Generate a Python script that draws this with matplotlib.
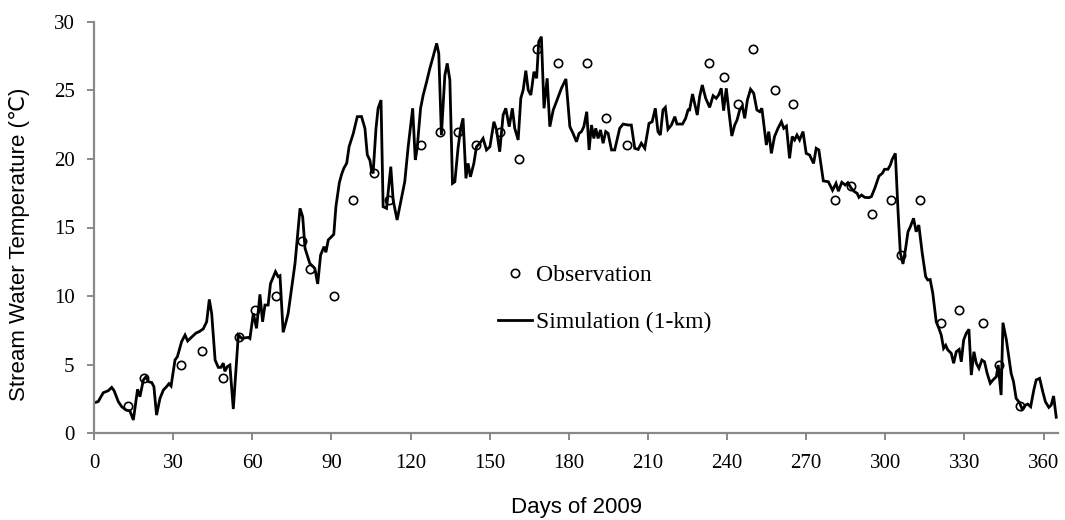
import matplotlib
matplotlib.use("Agg")
import matplotlib.pyplot as plt
from matplotlib.lines import Line2D

# simulated stream temperature (1-km), vertices
sim_day = [0.0, 1.6, 3.5, 5.4, 6.7, 7.6, 9.2, 10.5, 12.1, 13.6, 14.9, 16.5, 17.4, 18.7, 19.7, 20.6,
           21.9, 22.7, 23.7, 25.0, 26.3, 27.5, 28.4, 29.2, 30.7, 31.6, 33.2, 34.5, 35.5, 37.0, 38.7,
           39.9, 41.4, 42.7, 43.7, 44.6, 45.9, 47.1, 48.1, 49.0, 49.6, 50.5, 51.5, 52.8, 54.7, 56.0,
           58.5, 59.1, 60.4, 61.6, 62.9, 63.9, 64.8, 66.0, 66.9, 68.8, 69.8, 70.5, 71.7, 72.8, 73.6,
           76.2, 78.1, 79.1, 80.0, 81.8, 83.1, 83.7, 84.8, 85.9, 87.2, 87.9, 88.8, 90.9, 91.7, 93.0,
           93.9, 94.7, 95.8, 96.7, 98.3, 99.8, 101.4, 102.7, 103.6, 104.6, 105.2, 105.8, 106.9, 107.7,
           108.8, 109.6, 110.9, 112.5, 113.4, 114.9, 117.8, 119.1, 120.8, 121.8, 122.5, 123.8, 124.8,
           126.1, 127.3, 128.6, 129.9, 130.7, 131.7, 133.0, 133.9, 134.9, 135.9, 136.8, 138.0, 139.0,
           139.9, 141.0, 141.8, 142.7, 144.0, 145.0, 146.3, 147.5, 148.8, 150.1, 151.6, 152.6, 153.8,
           155.1, 156.1, 157.4, 158.6, 159.5, 160.8, 161.8, 162.7, 163.7, 164.6, 165.6, 166.8, 167.8,
           168.6, 169.6, 170.6, 171.8, 172.8, 174.1, 175.3, 177.2, 178.9, 180.4, 181.6, 182.9, 183.9,
           184.8, 185.7, 186.8, 187.7, 188.6, 189.5, 190.2, 191.1, 192.0, 193.0, 194.0, 194.9, 196.2,
           197.4, 199.3, 200.6, 202.5, 203.7, 205.0, 206.3, 207.5, 208.8, 210.4, 211.6, 212.8, 213.8,
           214.7, 215.7, 216.6, 217.6, 218.9, 220.2, 221.0, 223.1, 224.3, 225.2, 225.8, 226.9, 227.7,
           228.7, 229.6, 230.6, 231.9, 233.4, 234.7, 235.9, 236.8, 237.8, 238.7, 239.7, 240.7, 241.8,
           242.9, 243.8, 244.8, 245.8, 246.7, 247.7, 248.9, 250.1, 251.3, 252.4, 253.2, 254.9, 255.8,
           256.8, 258.0, 259.3, 260.6, 261.5, 262.5, 263.7, 264.7, 265.6, 266.5, 267.5, 268.8, 270.0,
           271.3, 272.8, 273.8, 274.8, 276.5, 278.4, 280.0, 281.3, 282.2, 283.5, 284.8, 285.8, 287.1,
           288.4, 289.3, 290.0, 291.0, 292.2, 293.8, 294.7, 296.0, 297.6, 298.9, 299.7, 301.0, 301.9,
           302.6, 303.8, 304.8, 305.7, 306.7, 307.7, 308.6, 309.5, 310.7, 311.7, 312.7, 314.0, 315.3,
           316.1, 317.0, 318.0, 319.3, 320.3, 321.2, 322.1, 322.9, 323.7, 325.0, 325.9, 326.9, 328.0,
           328.8, 329.7, 330.7, 331.7, 332.6, 333.6, 334.5, 335.5, 336.6, 337.6, 338.6, 339.8, 340.8,
           342.1, 342.8, 343.9, 344.6, 345.9, 346.8, 347.7, 348.6, 349.6, 350.9, 351.9, 353.2, 354.0,
           355.1, 356.3, 357.2, 358.5, 359.7, 360.7, 362.0, 362.9, 363.8, 364.8]
sim_temp = [2.2, 2.3, 2.94, 3.09, 3.33, 3.09, 2.29, 1.92, 1.68, 1.61, 0.95, 3.19, 2.65, 3.87, 4.11, 3.75,
            3.68, 3.38, 1.31, 2.53, 3.14, 3.38, 3.6, 3.43, 5.33, 5.57, 6.67, 7.15, 6.72, 7.0, 7.3,
            7.4, 7.6, 8.12, 9.75, 8.73, 5.33, 4.79, 4.79, 5.1, 4.5, 4.84, 4.96, 1.75, 7.15, 6.91,
            6.98, 6.9, 8.74, 7.64, 10.12, 8.12, 9.34, 9.34, 10.9, 11.78, 11.41, 11.48, 7.35, 8.12, 8.74,
            12.38, 16.4, 15.79, 13.48, 12.38, 12.14, 12.02, 10.88, 12.99, 13.6, 13.19, 14.09, 14.5, 16.52, 18.27,
            18.9, 19.32, 19.7, 20.9, 21.87, 23.09, 23.1, 22.24, 20.3, 19.9, 19.2, 18.95, 22.24, 23.7,
            24.3, 16.52, 16.4, 19.44, 17.0, 15.55, 18.34, 20.9, 23.7, 19.93, 20.78, 23.7, 24.67,
            25.64, 26.6, 27.5, 28.44, 27.7, 21.75, 26.1, 26.98, 25.77, 18.22, 18.34, 20.78, 22.24,
            22.97, 18.59, 19.68, 18.7, 19.68, 20.9, 21.15, 21.5, 20.66, 20.9, 22.72, 22.12, 20.53,
            23.21, 23.7, 22.36, 23.7, 22.24, 21.39, 24.43, 25.04, 26.45, 25.04, 24.67, 26.37, 25.89,
            28.56, 28.93, 23.7, 25.89, 22.36, 23.58, 24.18, 25.16, 25.84, 22.36, 21.87, 21.26, 21.87,
            22.0, 22.36, 23.45, 20.66, 22.48, 21.5, 22.24, 21.5, 22.12, 21.15, 22.0, 21.87, 20.66,
            20.66, 22.24, 22.55, 22.48, 22.48, 20.78, 20.7, 21.15, 20.78, 22.6, 22.72, 23.7, 22.0,
            21.75, 23.58, 23.77, 22.17, 22.48, 23.09, 22.55, 22.55, 22.97, 23.58, 23.58, 24.74, 24.06,
            23.21, 24.55, 25.4, 24.43, 23.77, 24.62, 24.43, 24.67, 25.16, 23.53, 25.16, 23.45, 21.68,
            22.48, 22.85, 23.58, 23.87, 22.97, 24.3, 25.09, 24.8, 23.58, 23.45, 23.7, 21.02, 22.0,
            20.41, 21.64, 22.24, 22.72, 22.24, 22.4, 20.05, 21.64, 21.39, 21.75, 21.39, 22.0, 20.41,
            20.29, 19.68, 20.78, 20.66, 18.4, 18.34, 17.72, 18.22, 17.65, 18.3, 18.1, 18.27, 17.86,
            17.6, 17.5, 17.2, 17.37, 17.2, 17.18, 17.25, 17.86, 18.76, 18.96, 19.25, 19.25, 19.56,
            19.97, 20.41, 16.28, 13.12, 12.34, 13.48, 14.69, 15.06, 15.67, 14.69, 15.18, 13.12, 11.41,
            11.17, 11.2, 10.2, 8.12, 7.64, 7.15, 6.18, 6.4, 6.06, 5.82, 5.09, 5.93, 6.1,
            5.2, 6.79, 7.28, 7.57, 4.23, 5.93, 5.09, 4.72, 5.33, 5.2, 4.36, 3.63, 3.87,
            4.11, 4.96, 2.77, 8.05, 6.79, 5.57, 4.36, 3.75, 2.53, 2.21, 1.73, 2.04, 2.11,
            1.92, 3.14, 3.87, 3.99, 3.01, 2.28, 1.87, 2.04, 2.7, 1.15]

# observed stream temperature
obs_day = [13, 19, 33, 41, 49, 55, 61, 69, 79, 82, 91, 98, 106, 112, 124, 131, 138, 145, 154, 161,
           168, 176, 187, 194, 202, 233, 239, 244, 250, 258, 265, 281, 287, 295, 302, 306, 313, 321,
           328, 337, 343, 351]
obs_temp = [2, 4, 5, 6, 4, 7, 9, 10, 14, 12, 10, 17, 19, 17, 21, 22, 22, 21, 22, 20,
            28, 27, 27, 23, 21, 27, 26, 24, 28, 25, 24, 17, 18, 16, 17, 13, 17, 8,
            9, 8, 5, 2]

x_ticks = list(range(0, 361, 30))
y_ticks = list(range(0, 31, 5))

serif = ["Liberation Serif", "DejaVu Serif"]
sans = ["Liberation Sans", "DejaVu Sans"]
axis_grey = "#898989"

fig = plt.figure(figsize=(10.65, 5.2), dpi=100)
ax = fig.add_axes([0.0883, 0.1673, 0.9052, 0.7904])

ax.plot(sim_day, sim_temp, color="black", lw=2.0, solid_joinstyle="miter")
ax.plot(obs_day, obs_temp, "o", ms=6, mfc="none", mec="black", mew=1.2)

ax.set_xlim(0, 365.5)
ax.set_ylim(0, 30)
ax.set_xticks(x_ticks)
ax.set_yticks(y_ticks)

for side in ["top", "right"]:
    ax.spines[side].set_visible(False)
for side in ["left", "bottom"]:
    ax.spines[side].set_color(axis_grey)
    ax.spines[side].set_linewidth(1.6)

ax.tick_params(axis="both", direction="out", length=5, width=1.4, color=axis_grey,
               labelsize=15)
ax.tick_params(axis="x", pad=10)
ax.tick_params(axis="y", pad=9)
for lab in ax.get_xticklabels() + ax.get_yticklabels():
    lab.set_family(serif)

ax.set_xlabel("Days of 2009", fontsize=16, family=sans)
ax.set_ylabel("Stream Water Temperature (\u2103)", fontsize=16, family=sans)
ax.xaxis.set_label_coords(0.5, -0.155)
ax.yaxis.set_label_coords(-0.066, 0.46)

handles = [Line2D([], [], ls="none", marker="o", ms=6, mfc="none", mec="black", mew=1.2),
           Line2D([], [], color="black", lw=2.0)]
ax.legend(handles, ["Observation", "Simulation (1-km)"], loc="upper left",
          bbox_to_anchor=(0.4188, 0.41), frameon=False, borderpad=0, borderaxespad=0,
          handlelength=1.45, handletextpad=0.15, labelspacing=1.1,
          prop={"family": serif, "size": 17})

fig.savefig("out.png", dpi=100)
